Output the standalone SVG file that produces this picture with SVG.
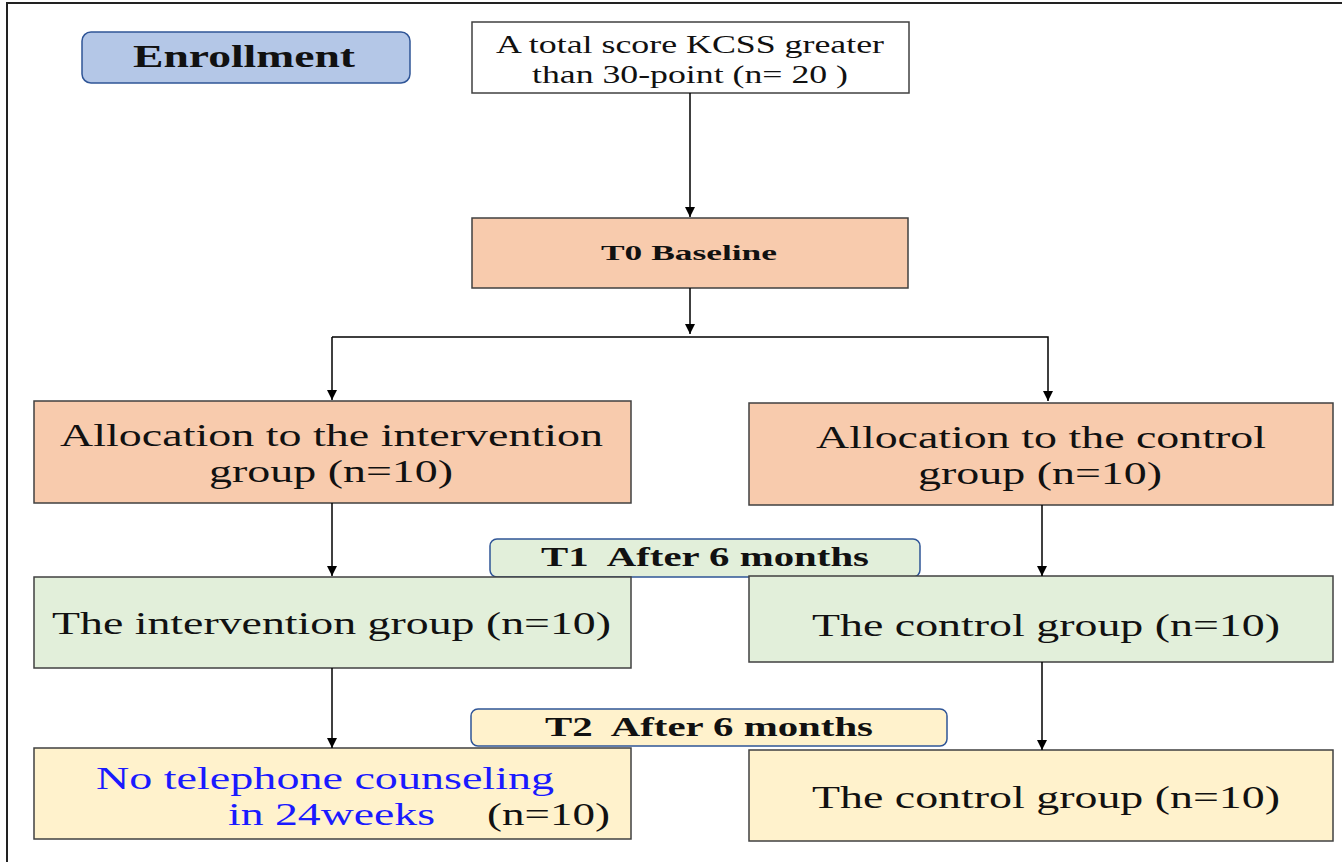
<svg xmlns="http://www.w3.org/2000/svg" width="1342" height="862" viewBox="0 0 1342 862">
<defs>
<marker id="ah" markerWidth="10" markerHeight="10" refX="10" refY="5" orient="auto" markerUnits="userSpaceOnUse">
<path d="M0,0 L10,5 L0,10 Z" fill="#000"/>
</marker>
<style>
.box{stroke:#404040;stroke-width:1.5}
.peach{fill:#f8cbad}
.green{fill:#e2efda}
.yellow{fill:#fff2cc}
.lbl{stroke:#2f5597;stroke-width:1.5}
.t{font-family:'Times New Roman','Liberation Serif',Times,'Nimbus Roman','Tinos','FreeSerif',serif;fill:#111}
.big{font-size:32px}
.bold{font-weight:bold}
.blue{fill:#1a1aff}
.con{stroke:#000;stroke-width:1.5;fill:none}
</style>
</defs>
<rect width="1342" height="862" fill="#fff"/>
<rect x="7" y="3" width="1400" height="900" fill="none" stroke="#222" stroke-width="2"/>

<g id="enrollment">
<rect x="82" y="32" width="328" height="51" rx="9" fill="#b4c7e7" class="lbl"/>
<text class="t bold" x="133" y="67" font-size="32" textLength="222" lengthAdjust="spacingAndGlyphs">Enrollment</text>
</g>

<g id="kcss">
<rect x="472" y="22" width="437" height="71" fill="#fff" class="box"/>
<text class="t" x="496" y="53" font-size="26" textLength="388" lengthAdjust="spacingAndGlyphs">A total score KCSS greater</text>
<text class="t" x="532" y="83" font-size="26" textLength="316" lengthAdjust="spacingAndGlyphs">than 30-point (n= 20 )</text>
</g>

<g id="baseline">
<rect x="472" y="218" width="436" height="70" class="box peach"/>
<text class="t bold" x="601" y="260" font-size="22" textLength="176" lengthAdjust="spacingAndGlyphs">T0 Baseline</text>
</g>

<g id="alloc-intervention">
<rect x="34" y="401" width="597" height="102" class="box peach"/>
<text class="t big" x="60" y="446" textLength="543" lengthAdjust="spacingAndGlyphs">Allocation to the intervention</text>
<text class="t big" x="209" y="482" textLength="244" lengthAdjust="spacingAndGlyphs">group (n=10)</text>
</g>

<g id="alloc-control">
<rect x="749" y="403" width="584" height="102" class="box peach"/>
<text class="t big" x="816" y="448" textLength="450" lengthAdjust="spacingAndGlyphs">Allocation to the control</text>
<text class="t big" x="918" y="484" textLength="244" lengthAdjust="spacingAndGlyphs">group (n=10)</text>
</g>

<g id="t1-label">
<rect x="490" y="539" width="430" height="38" rx="7" class="green lbl"/>
<text class="t bold" x="541" y="566" font-size="27" textLength="328" lengthAdjust="spacingAndGlyphs">T1&#160; After 6 months</text>
</g>

<g id="t1-intervention">
<rect x="34" y="577" width="597" height="91" class="box green"/>
<text class="t big" x="52" y="634" textLength="559" lengthAdjust="spacingAndGlyphs">The intervention group (n=10)</text>
</g>

<g id="t1-control">
<rect x="749" y="576" width="584" height="86" class="box green"/>
<text class="t big" x="812" y="636" textLength="468" lengthAdjust="spacingAndGlyphs">The control group (n=10)</text>
</g>

<g id="t2-label">
<rect x="471" y="709" width="476" height="37" rx="7" class="yellow lbl"/>
<text class="t bold" x="545" y="736" font-size="27" textLength="328" lengthAdjust="spacingAndGlyphs">T2&#160; After 6 months</text>
</g>

<g id="t2-intervention">
<rect x="34" y="748" width="597" height="91" class="box yellow"/>
<text class="t big blue" x="96" y="789" textLength="458" lengthAdjust="spacingAndGlyphs">No telephone counseling</text>
<text class="t big blue" x="228" y="825" textLength="207" lengthAdjust="spacingAndGlyphs">in 24weeks</text>
<text class="t big" x="487" y="825" textLength="123" lengthAdjust="spacingAndGlyphs">(n=10)</text>
</g>

<g id="t2-control">
<rect x="749" y="750" width="584" height="91" class="box yellow"/>
<text class="t big" x="812" y="808" textLength="468" lengthAdjust="spacingAndGlyphs">The control group (n=10)</text>
</g>

<g id="connectors">
<line class="con" x1="690" y1="93" x2="690" y2="217" marker-end="url(#ah)"/>
<line class="con" x1="690" y1="288" x2="690" y2="334" marker-end="url(#ah)"/>
<polyline class="con" points="332,337 1048,337 1048,401" marker-end="url(#ah)"/>
<line class="con" x1="332" y1="337" x2="332" y2="400" marker-end="url(#ah)"/>
<line class="con" x1="332" y1="503" x2="332" y2="576" marker-end="url(#ah)"/>
<line class="con" x1="1042" y1="505" x2="1042" y2="576" marker-end="url(#ah)"/>
<line class="con" x1="332" y1="668" x2="332" y2="748" marker-end="url(#ah)"/>
<line class="con" x1="1042" y1="662" x2="1042" y2="750" marker-end="url(#ah)"/>
</g>
</svg>
